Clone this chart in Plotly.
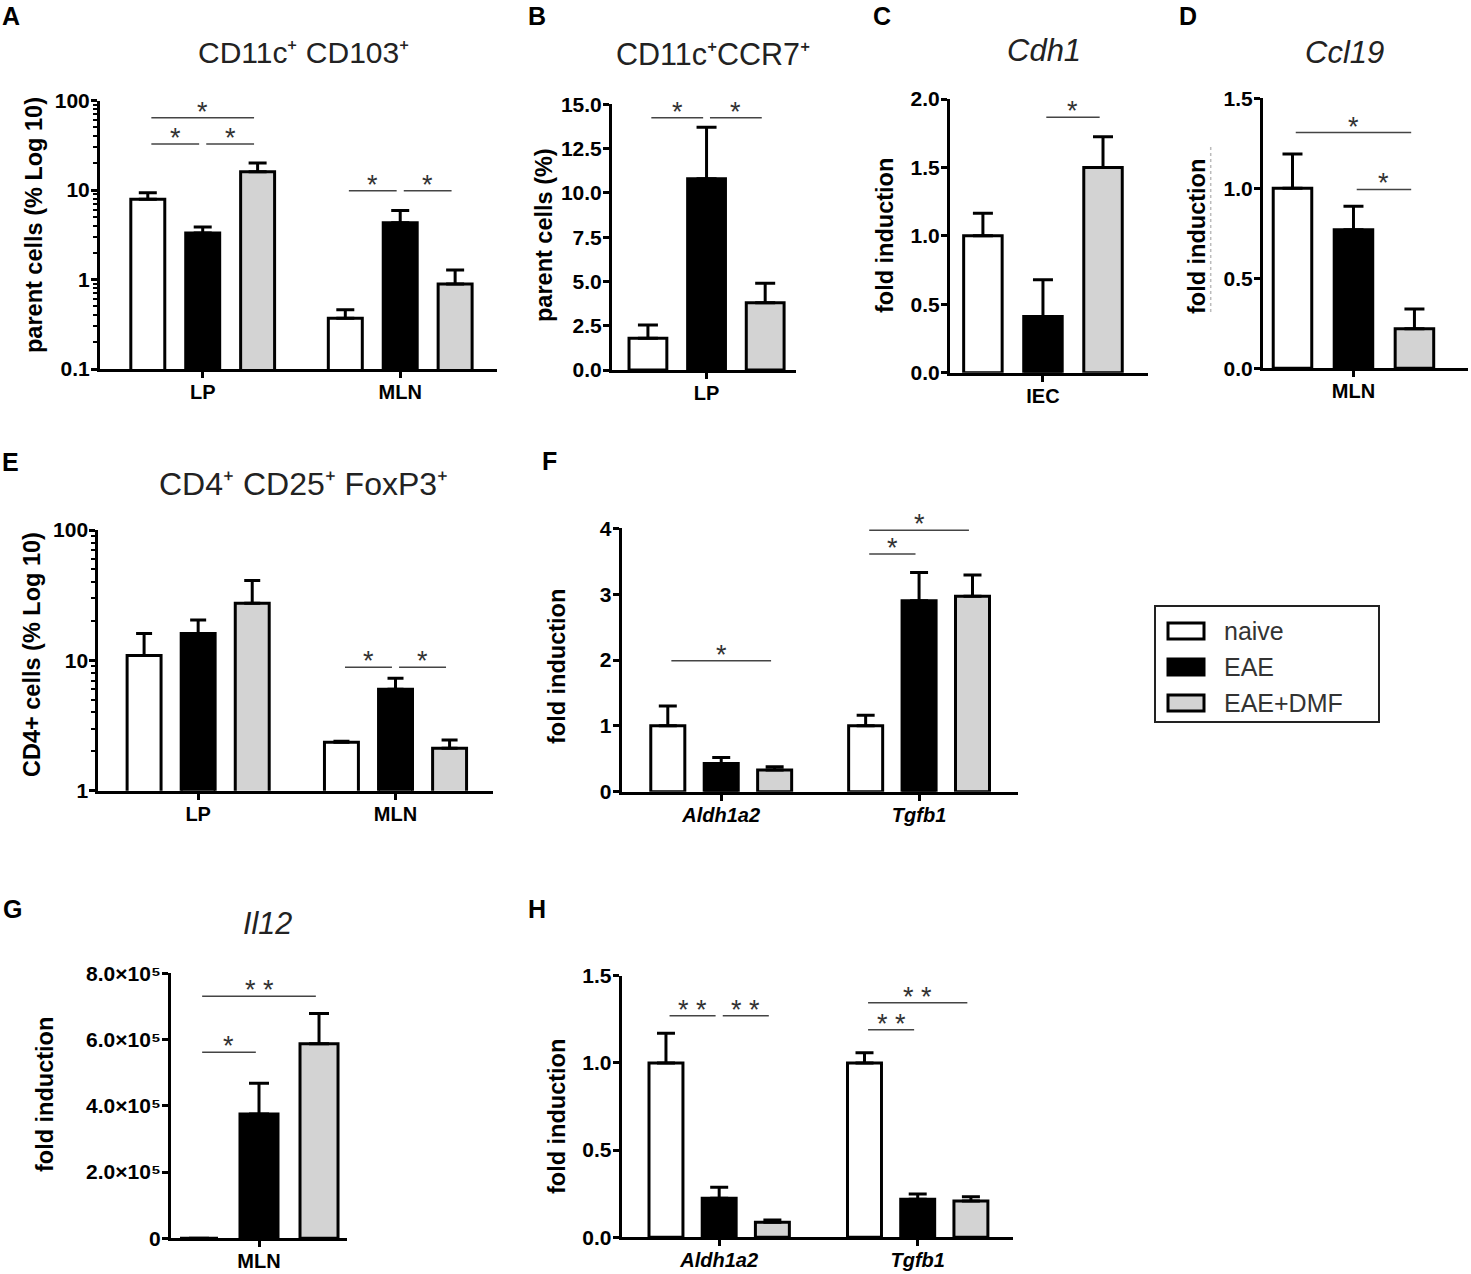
import math
import plotly.graph_objects as go

W, H = 1471, 1274
FONT = "Liberation Sans, Arial, Helvetica, sans-serif"

GROUPS = ["naive", "EAE", "EAE+DMF"]
FILLS = ["#ffffff", "#000000", "#d3d3d3"]

# ---- A: CD11c+ CD103+ (% log10)
a_cats = ["LP", "MLN"]
a_naive = [7.9, 0.37]
a_eae = [3.3, 4.3]
a_dmf = [16.0, 0.89]
a_naive_err = [1.4, 0.09]
a_eae_err = [0.55, 1.6]
a_dmf_err = [4.0, 0.39]
# (group, bar i, bar j, y, label)
a_sig = [(0, 0, 1, 32.6, "*"), (0, 1, 2, 32.6, "*"), (0, 0, 2, 64, "*"),
         (1, 0, 1, 9.8, "*"), (1, 1, 2, 9.8, "*")]
a_yticks = [0.1, 1, 10, 100]
a_yticktext = ["0.1", "1", "10", "100"]

# ---- B: CD11c+ CCR7+ (%)
b_cats = ["LP"]
b_naive = [1.79]
b_eae = [10.8]
b_dmf = [3.8]
b_naive_err = [0.75]
b_eae_err = [2.9]
b_dmf_err = [1.1]
b_sig = [(0, 0, 1, 14.24, "*"), (0, 1, 2, 14.24, "*")]

# ---- C: Cdh1
c_cats = ["IEC"]
c_naive = [1.0]
c_eae = [0.41]
c_dmf = [1.5]
c_naive_err = [0.165]
c_eae_err = [0.27]
c_dmf_err = [0.225]
c_sig = [(0, 1, 2, 1.867, "*")]

# ---- D: Ccl19
d_cats = ["MLN"]
d_naive = [1.0]
d_eae = [0.77]
d_dmf = [0.22]
d_naive_err = [0.19]
d_eae_err = [0.13]
d_dmf_err = [0.11]
d_sig = [(0, 0, 2, 1.31, "*"), (0, 1, 2, 0.994, "*")]

# ---- E: CD4+ CD25+ FoxP3+ (% log10)
e_cats = ["LP", "MLN"]
e_naive = [10.9, 2.35]
e_eae = [16.1, 6.0]
e_dmf = [27.4, 2.12]
e_naive_err = [5.2, 0.05]
e_eae_err = [4.3, 1.3]
e_dmf_err = [13.5, 0.33]
e_sig = [(1, 0, 1, 8.85, "*"), (1, 1, 2, 8.85, "*")]
e_yticks = [1, 10, 100]
e_yticktext = ["1", "10", "100"]

# ---- F: Aldh1a2 / Tgfb1
f_cats = ["Aldh1a2", "Tgfb1"]
f_naive = [1.0, 1.0]
f_eae = [0.43, 2.9]
f_dmf = [0.33, 2.97]
f_naive_err = [0.3, 0.16]
f_eae_err = [0.09, 0.43]
f_dmf_err = [0.05, 0.32]
f_sig = [(0, 0, 2, 1.99, "*"), (1, 0, 1, 3.61, "*"), (1, 0, 2, 3.97, "*")]

# ---- G: Il12 (naive bar is not visible)
g_cats = ["MLN"]
g_naive = [0]
g_eae = [3.75e5]
g_dmf = [5.87e5]
g_naive_err = [None]
g_eae_err = [0.93e5]
g_dmf_err = [0.92e5]
g_sig = [(0, 0, 1, 5.62e5, "*"), (0, 0, 2, 7.31e5, "* *")]
g_yticks = [0, 2e5, 4e5, 6e5, 8e5]
g_yticktext = ["0", "2.0×10⁵", "4.0×10⁵", "6.0×10⁵", "8.0×10⁵"]

# ---- H: Aldh1a2 / Tgfb1 (second experiment)
h_cats = ["Aldh1a2", "Tgfb1"]
h_naive = [1.0, 1.0]
h_eae = [0.224, 0.218]
h_dmf = [0.086, 0.208]
h_naive_err = [0.17, 0.058]
h_eae_err = [0.063, 0.03]
h_dmf_err = [0.013, 0.025]
h_sig = [(0, 0, 1, 1.27, "* *"), (0, 1, 2, 1.27, "* *"),
         (1, 0, 1, 1.19, "* *"), (1, 0, 2, 1.345, "* *")]

# panel layout: box = (left, top, right, bottom) in pixels
panels = [
    dict(letter="A", letter_xy=(11, 16), cats=a_cats,
         vals=[a_naive, a_eae, a_dmf], errs=[a_naive_err, a_eae_err, a_dmf_err], sig=a_sig,
         box=(100, 100.5, 497, 369), xr=[-0.52, 1.49], slot=0.278, bw=0.172, cap=9,
         ylog=True, yr=[-1, 2], yticks=a_yticks, yticktext=a_yticktext,
         ytitle="parent cells (% Log 10)", ytitle_xy=(34, 225),
         title="CD11c⁺ CD103⁺", title_xy=(303, 53), tsize=30),
    dict(letter="B", letter_xy=(537, 16), cats=b_cats,
         vals=[b_naive, b_eae, b_dmf], errs=[b_naive_err, b_eae_err, b_dmf_err], sig=b_sig,
         box=(612, 104.3, 796, 370), xr=[-0.5, 0.473], slot=0.31, bw=0.20, cap=10,
         ylog=False, yr=[0, 15], dtick=2.5, fmt=".1f",
         ytitle="parent cells (%)", ytitle_xy=(544, 235),
         title="CD11c⁺CCR7⁺", title_xy=(713, 54), tsize=30.5),
    dict(letter="C", letter_xy=(882, 16), cats=c_cats,
         vals=[c_naive, c_eae, c_dmf], errs=[c_naive_err, c_eae_err, c_dmf_err], sig=c_sig,
         box=(950, 99, 1148, 372.7), xr=[-0.5, 0.565], slot=0.323, bw=0.207, cap=10,
         ylog=False, yr=[0, 2], dtick=0.5, fmt=".1f",
         ytitle="fold induction", ytitle_xy=(885, 236),
         title="<i>Cdh1</i>", title_xy=(1044, 50), tsize=31),
    dict(letter="D", letter_xy=(1188, 16), cats=d_cats,
         vals=[d_naive, d_eae, d_dmf], errs=[d_naive_err, d_eae_err, d_dmf_err], sig=d_sig,
         box=(1263, 98.3, 1468, 368.3), xr=[-0.5, 0.633], slot=0.337, bw=0.213, cap=10,
         ylog=False, yr=[0, 1.5], dtick=0.5, fmt=".1f",
         ytitle="fold induction", ytitle_xy=(1197, 237),
         title="<i>Ccl19</i>", title_xy=(1344, 52), tsize=31),
    dict(letter="E", letter_xy=(10, 462), cats=e_cats,
         vals=[e_naive, e_eae, e_dmf], errs=[e_naive_err, e_eae_err, e_dmf_err], sig=e_sig,
         box=(98.3, 530, 493, 790.7), xr=[-0.506, 1.494], slot=0.274, bw=0.172, cap=8,
         ylog=True, yr=[0, 2], yticks=e_yticks, yticktext=e_yticktext,
         ytitle="CD4+ cells (% Log 10)", ytitle_xy=(32, 655),
         title="CD4⁺ CD25⁺ FoxP3⁺", title_xy=(303, 484), tsize=32),
    dict(letter="F", letter_xy=(549, 461), cats=f_cats, italic=True,
         vals=[f_naive, f_eae, f_dmf], errs=[f_naive_err, f_eae_err, f_dmf_err], sig=f_sig,
         box=(621.7, 528.3, 1018, 791.7), xr=[-0.503, 1.5], slot=0.27, bw=0.172, cap=9,
         ylog=False, yr=[0, 4], dtick=1, fmt="d",
         ytitle="fold induction", ytitle_xy=(557, 667)),
    dict(letter="G", letter_xy=(12, 909), cats=g_cats,
         vals=[g_naive, g_eae, g_dmf], errs=[g_naive_err, g_eae_err, g_dmf_err], sig=g_sig,
         box=(171, 973.3, 347, 1238.3), xr=[-0.5, 0.5], slot=0.341, bw=0.216, cap=10,
         ylog=False, yr=[0, 8e5], yticks=g_yticks, yticktext=g_yticktext,
         ytitle="fold induction", ytitle_xy=(45, 1095),
         title="<i>Il12</i>", title_xy=(267, 923), tsize=30.5),
    dict(letter="H", letter_xy=(537, 909), cats=h_cats, italic=True,
         vals=[h_naive, h_eae, h_dmf], errs=[h_naive_err, h_eae_err, h_dmf_err], sig=h_sig,
         box=(621.7, 975.7, 1013, 1237.3), xr=[-0.491, 1.48], slot=0.268, bw=0.171, cap=9,
         ylog=False, yr=[0, 1.5], dtick=0.5, fmt=".1f",
         ytitle="fold induction", ytitle_xy=(557, 1117)),
]


def px(x, y):
    return x / W, 1 - y / H


fig = go.Figure()
shapes = []
annotations = []
tickfont = dict(family=FONT, size=21, color="black", weight="bold")

for k, p in enumerate(panels, start=1):
    xref = "x" if k == 1 else f"x{k}"
    yref = "y" if k == 1 else f"y{k}"
    l, t, r, b = p["box"]
    n = len(p["cats"])

    for i in range(3):
        fig.add_trace(go.Bar(
            x=p["cats"], y=p["vals"][i], name=GROUPS[i],
            offset=(i - 1) * p["slot"] - p["bw"] / 2, width=p["bw"],
            marker=dict(color=FILLS[i], line=dict(color="black", width=3)),
            error_y=dict(type="data", array=p["errs"][i], arrayminus=[0] * n,
                         symmetric=False, color="black", thickness=3, width=p["cap"]),
            xaxis=xref, yaxis=yref, showlegend=False, hoverinfo="skip",
        ))

    xax = dict(domain=[l / W, r / W], anchor=yref, type="category", range=p["xr"],
               showline=True, linecolor="black", linewidth=3, ticks="outside",
               ticklen=6, tickwidth=3, tickcolor="black", ticklabelstandoff=-3,
               tickfont=dict(tickfont, size=20), automargin=False,
               showgrid=False, zeroline=False, fixedrange=True)
    if p.get("italic"):
        xax.update(tickmode="array", tickvals=p["cats"],
                   ticktext=[f"<i>{c}</i>" for c in p["cats"]])
    yax = dict(domain=[1 - b / H, 1 - t / H], anchor=xref, range=p["yr"],
               showline=True, linecolor="black", linewidth=3, ticks="outside",
               ticklen=6, tickwidth=3, tickcolor="black", tickfont=tickfont,
               ticklabelstandoff=-3, automargin=False,
               showgrid=False, zeroline=False, fixedrange=True)
    if p["ylog"]:
        minor_vals = [m * 10 ** e for e in range(int(p["yr"][0]), int(p["yr"][1]))
                      for m in range(2, 10)]
        yax.update(type="log", tickmode="array", tickvals=p["yticks"],
                   ticktext=p["yticktext"],
                   minor=dict(tickmode="array", tickvals=minor_vals, ticks="outside",
                              ticklen=4, tickwidth=2, tickcolor="black"))
    elif "yticks" in p:
        yax.update(tickmode="array", tickvals=p["yticks"], ticktext=p["yticktext"])
    else:
        yax.update(tickmode="linear", tick0=0, dtick=p["dtick"], tickformat=p["fmt"])

    fig.layout["xaxis" if k == 1 else f"xaxis{k}"] = xax
    fig.layout["yaxis" if k == 1 else f"yaxis{k}"] = yax

    # significance brackets
    pad = 0.018
    for g, i, j, yv, lab in p["sig"]:
        x0 = g + (i - 1) * p["slot"] + pad
        x1 = g + (j - 1) * p["slot"] - pad
        shapes.append(dict(type="line", xref=xref, yref=yref, x0=x0, x1=x1, y0=yv, y1=yv,
                           line=dict(color="#444444", width=1.5)))
        annotations.append(dict(x=(x0 + x1) / 2, y=math.log10(yv) if p["ylog"] else yv,
                                xref=xref, yref=yref, text=lab, showarrow=False,
                                yanchor="bottom", yshift=-11,
                                font=dict(family=FONT, size=27, color="#333333")))

    # panel letter, title, y title
    lx, ly = px(*p["letter_xy"])
    annotations.append(dict(x=lx, y=ly, xref="paper", yref="paper", text=p["letter"],
                            showarrow=False, xanchor="center", yanchor="middle",
                            font=dict(family=FONT, size=25, color="black", weight="bold")))
    if "title" in p:
        tx, ty = px(*p["title_xy"])
        annotations.append(dict(x=tx, y=ty, xref="paper", yref="paper", text=p["title"],
                                showarrow=False, xanchor="center", yanchor="middle",
                                font=dict(family=FONT, size=p["tsize"], color="#222222")))
    yx, yy = px(*p["ytitle_xy"])
    annotations.append(dict(x=yx, y=yy, xref="paper", yref="paper", text=p["ytitle"],
                            showarrow=False, textangle=-90, xanchor="center",
                            yanchor="middle",
                            font=dict(family=FONT, size=23.5, color="black", weight="bold")))

# faint dotted artefact next to the D axis title
x0, y0 = px(1210.7, 147)
x1, y1 = px(1210.7, 315)
shapes.append(dict(type="line", xref="paper", yref="paper", x0=x0, x1=x1, y0=y0, y1=y1,
                   line=dict(color="#bbbbbb", width=1.5, dash="dot")))

# legend box
bx0, by0 = px(1155, 606)
bx1, by1 = px(1379, 722)
shapes.append(dict(type="rect", xref="paper", yref="paper", x0=bx0, x1=bx1, y0=by0, y1=by1,
                   line=dict(color="#222222", width=2), fillcolor="white"))
for i, (name, ycen) in enumerate(zip(GROUPS, [631, 667, 703])):
    sx0, sy0 = px(1168, ycen - 8)
    sx1, sy1 = px(1204, ycen + 8)
    shapes.append(dict(type="rect", xref="paper", yref="paper", x0=sx0, x1=sx1,
                       y0=sy0, y1=sy1, fillcolor=FILLS[i],
                       line=dict(color="black", width=3)))
    tx, ty = px(1222, ycen)
    annotations.append(dict(x=tx, y=ty, xref="paper", yref="paper", text=name,
                            showarrow=False, xanchor="left", yanchor="middle",
                            font=dict(family=FONT, size=25, color="#333333")))

fig.update_layout(
    width=W, height=H, autosize=False,
    margin=dict(l=0, r=0, t=0, b=0, pad=0, autoexpand=False),
    paper_bgcolor="white", plot_bgcolor="white",
    barmode="overlay", showlegend=False,
    shapes=shapes, annotations=annotations,
    font=dict(family=FONT),
)

fig.write_html("out.html", config={"displayModeBar": False},
               post_script="document.body.style.margin='0px';")
